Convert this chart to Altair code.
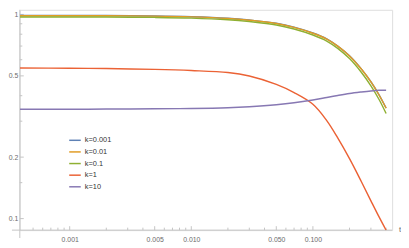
import altair as alt
import pandas as pd

# ---- data ----
t_vals = [0.00039, 0.001, 0.002, 0.005, 0.01, 0.02, 0.03, 0.05, 0.07, 0.1,
          0.13, 0.16, 0.2, 0.25, 0.3, 0.35, 0.4]
k_0001 = [0.988, 0.988, 0.987, 0.983, 0.975, 0.958, 0.939, 0.905, 0.866, 0.811,
          0.759, 0.700, 0.627, 0.541, 0.468, 0.404, 0.348]
k_001 = [0.986, 0.986, 0.985, 0.981, 0.973, 0.956, 0.937, 0.903, 0.864, 0.809,
         0.757, 0.699, 0.626, 0.540, 0.467, 0.403, 0.347]
k_01 = [0.972, 0.972, 0.971, 0.967, 0.959, 0.941, 0.922, 0.888, 0.848, 0.793,
        0.741, 0.682, 0.6075, 0.5206, 0.4467, 0.383, 0.327]
k_1 = [0.546, 0.545, 0.543, 0.538, 0.531, 0.519, 0.499, 0.454, 0.414, 0.363,
       0.302, 0.2485, 0.1966, 0.152, 0.1222, 0.1019, 0.0877]
k_10 = [0.343, 0.343, 0.344, 0.345, 0.346, 0.349, 0.353, 0.361, 0.369, 0.381,
        0.392, 0.401, 0.410, 0.417, 0.422, 0.425, 0.4255]

series_names = ["k=0.001", "k=0.01", "k=0.1", "k=1", "k=10"]
series_values = [k_0001, k_001, k_01, k_1, k_10]
colors = ["#5E81B5", "#E19C24", "#8FB032", "#EB6235", "#8778B3"]

x_major = [0.001, 0.005, 0.01, 0.05, 0.1]
x_minor = [0.0005, 0.0006, 0.0007, 0.0008, 0.0009, 0.002, 0.003, 0.004,
           0.006, 0.007, 0.008, 0.009, 0.02, 0.03, 0.04, 0.06, 0.07, 0.08,
           0.09, 0.2, 0.3, 0.4]
y_major = [0.1, 0.2, 0.5, 1]
y_minor = [0.15, 0.3, 0.4, 0.6, 0.7, 0.8, 0.9]

x_domain = [0.000389, 0.4483]
y_domain = [0.0878, 1.0536]

PAD_L = 12
W = 378
H = 223.7
AXIS_COLOR = "#c4c4c4"
LABEL_COLOR = "#6b6b6b"
FONT = "Liberation Sans"

rows = []
for name, vals in zip(series_names, series_values):
    for t, v in zip(t_vals, vals):
        rows.append({"t": t, "v": v, "series": name})
df = pd.DataFrame(rows)

xs = alt.Scale(type="log", domain=x_domain, nice=False)
ys = alt.Scale(type="log", domain=y_domain, nice=False)

x_axis = alt.Axis(values=x_major, format=".3f", domain=False, ticks=False,
                  tickSize=0, grid=False, labelFontSize=7, labelFont=FONT,
                  labelColor=LABEL_COLOR, labelPadding=6, title=None,
                  labelFlush=False, labelOverlap=False)
y_axis = alt.Axis(values=y_major, domain=False, ticks=False, tickSize=0,
                  grid=False, labelFontSize=7, labelFont=FONT,
                  labelColor=LABEL_COLOR, labelPadding=2, title=None,
                  labelFlush=False, labelOverlap=False,
                  labelExpr="datum.value == 1 ? '1' : format(datum.value, '.1f')")

X = alt.X("t:Q", scale=xs, axis=x_axis)
Y = alt.Y("v:Q", scale=ys, axis=y_axis)

color = alt.Color(
    "series:N",
    scale=alt.Scale(domain=series_names, range=colors),
    legend=alt.Legend(orient="none", legendX=49, legendY=125.5, title=None,
                      symbolType="stroke", symbolSize=137,
                      symbolStrokeWidth=1.5, labelFontSize=7.5,
                      labelFont=FONT, labelColor="#333333", rowPadding=0.8,
                      labelOffset=3, padding=0),
)

one = pd.DataFrame({"a": [0]})

# axis lines (Mathematica-style crossing axes)
x_axis_line = alt.Chart(one).mark_rule(color=AXIS_COLOR, strokeWidth=1).encode(
    x=alt.value(-8), x2=alt.value(W), y=alt.value(H))
y_axis_line = alt.Chart(one).mark_rule(color=AXIS_COLOR, strokeWidth=1).encode(
    x=alt.value(0), y=alt.value(0), y2=alt.value(H + 8))

# inward ticks
xmaj = alt.Chart(pd.DataFrame({"t": x_major})).mark_rule(
    color=AXIS_COLOR).encode(x=X, y=alt.value(H), y2=alt.value(H - 4))
xmin = alt.Chart(pd.DataFrame({"t": x_minor})).mark_rule(
    color=AXIS_COLOR).encode(x=X, y=alt.value(H), y2=alt.value(H - 2.5))
ymaj = alt.Chart(pd.DataFrame({"v": y_major})).mark_rule(
    color=AXIS_COLOR).encode(y=Y, x=alt.value(0), x2=alt.value(4))
ymin = alt.Chart(pd.DataFrame({"v": y_minor})).mark_rule(
    color=AXIS_COLOR).encode(y=Y, x=alt.value(0), x2=alt.value(2.5))

t_label = alt.Chart(one).mark_text(
    font=FONT, fontSize=8, color=LABEL_COLOR, align="center",
    baseline="middle").encode(x=alt.value(W + 8), y=alt.value(H),
                              text=alt.value("t"))

line_layers = []
for name in series_names:
    line_layers.append(
        alt.Chart(df).transform_filter(alt.datum.series == name)
        .mark_line(clip=True, strokeWidth=1.45, interpolate="catmull-rom")
        .encode(x=X, y=Y, color=color)
    )

chart = alt.layer(
    x_axis_line, y_axis_line, xmaj, xmin, ymaj, ymin, *line_layers, t_label
).properties(
    width=W, height=H,
    autosize=alt.AutoSizeParams(type="none"),
    padding={"left": PAD_L, "top": 0, "right": 9, "bottom": 16},
).configure_view(stroke=None).configure(background="white")

chart.save("out.html", embed_options={"renderer": "svg", "actions": False})
